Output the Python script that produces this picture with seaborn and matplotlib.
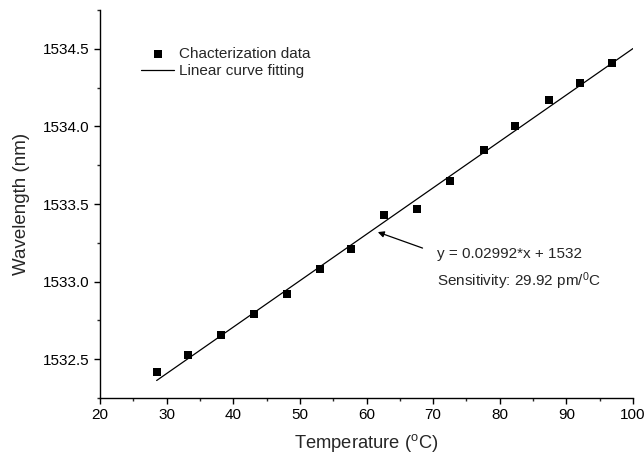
import matplotlib
matplotlib.use("Agg")
import matplotlib.pyplot as plt
import numpy as np
import pandas as pd
import seaborn as sns

# data
temperature = [28.5, 33.2, 38.2, 43.1, 48.0, 53.0, 57.7, 62.6, 67.5, 72.6,
               77.6, 82.3, 87.4, 92.1, 96.8]
wavelength = [1532.42, 1532.53, 1532.655, 1532.79, 1532.92, 1533.08, 1533.21,
              1533.43, 1533.47, 1533.65, 1533.85, 1534.00, 1534.17, 1534.28,
              1534.41]
fit_slope = 0.02992
fit_intercept = 1531.51
fit_range = [28.5, 100.0]

df = pd.DataFrame({"T": temperature, "W": wavelength})
fit_x = np.linspace(fit_range[0], fit_range[1], 50)
fit_df = pd.DataFrame({"T": fit_x, "W": fit_slope * fit_x + fit_intercept})

sns.set_style("ticks")
plt.rcParams['font.family'] = ['Liberation Sans', 'DejaVu Sans']
plt.rcParams['mathtext.fontset'] = 'custom'
plt.rcParams['mathtext.rm'] = 'Liberation Sans'
plt.rcParams['mathtext.it'] = 'Liberation Sans'

fig = plt.figure(figsize=(6.44, 4.57), dpi=100, facecolor='white')
ax = fig.add_axes([0.1553, 0.1291, 0.8277, 0.849])

sns.scatterplot(data=df, x="T", y="W", marker='s', s=38, color='black',
                edgecolor='black', linewidth=0, ax=ax,
                label="Chacterization data", zorder=3)
sns.lineplot(data=fit_df, x="T", y="W", color='black', linewidth=0.9, ax=ax,
             label="Linear curve fitting")

ax.set_xlim(20, 100)
ax.set_ylim(1532.25, 1534.75)
ax.set_xticks(np.arange(20, 101, 10))
ax.set_xticks(np.arange(25, 100, 10), minor=True)
ax.set_yticks([1532.5, 1533.0, 1533.5, 1534.0, 1534.5])
ax.set_yticks([1532.25, 1532.75, 1533.25, 1533.75, 1534.25, 1534.75], minor=True)
ax.yaxis.set_major_formatter(matplotlib.ticker.FormatStrFormatter('%.1f'))
ax.tick_params(axis='both', which='major', labelsize=11, direction='out',
               length=4, width=1, colors='black')
ax.tick_params(axis='both', which='minor', direction='out', length=2.5, width=1)
for s in ['left', 'bottom']:
    ax.spines[s].set_linewidth(1)
    ax.spines[s].set_color('black')
sns.despine(ax=ax)

ax.set_xlabel(r"Temperature ($^{\rm o}$C)", fontsize=13.2, labelpad=7)
ax.set_ylabel("Wavelength (nm)", fontsize=13.5, labelpad=9)

leg = ax.legend(loc='upper left', bbox_to_anchor=(0.065, 0.92), frameon=False,
                fontsize=11, handlelength=2.2, handletextpad=0.3,
                labelspacing=0.2, borderaxespad=0)

ax.annotate("", xy=(61.3, 1533.325), xytext=(68.8, 1533.21),
            arrowprops=dict(arrowstyle='-|>', color='black', lw=0.9,
                            mutation_scale=9))
ax.text(70.6, 1533.18, "y = 0.02992*x + 1532", fontsize=11, va='center')
ax.text(70.6, 1533.005, r"Sensitivity: 29.92 pm/$^{0}$C", fontsize=11, va='center')

fig.savefig("out.png", dpi=100, facecolor='white')
